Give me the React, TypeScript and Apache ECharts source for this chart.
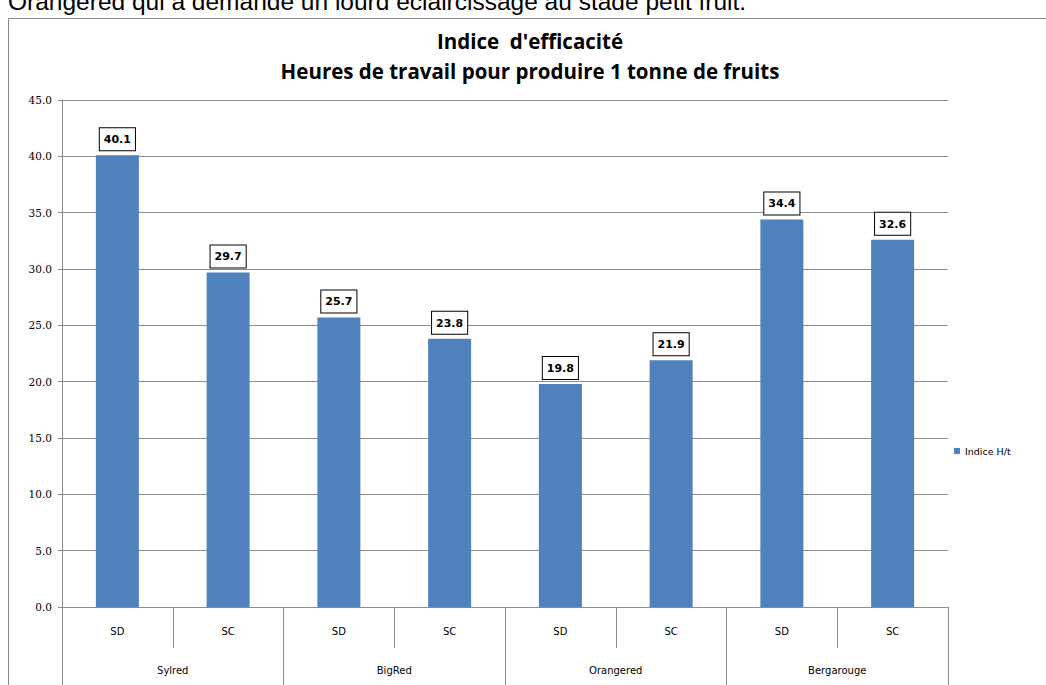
import React, { useEffect, useRef } from "react";
import * as echarts from "echarts";

const varieties = ["Sylred", "BigRed", "Orangered", "Bergarouge"];
const treatments = ["SD", "SC", "SD", "SC", "SD", "SC", "SD", "SC"];
const indexValues = [40.1, 29.7, 25.7, 23.8, 19.8, 21.9, 34.4, 32.6];
const seriesName = "Indice H/t";
const titleLine1 = "Indice  d'efficacité";
const titleLine2 = "Heures de travail pour produire 1 tonne de fruits";
const caption = "Orangered qui a demandé un lourd éclaircissage au stade petit fruit.";

export default function App() {
  const ref = useRef<HTMLDivElement>(null);
  useEffect(() => {
    if (!ref.current) return;
    const chart = echarts.init(ref.current, null, { renderer: "svg" });
    const gray = "#8c8c8c";
    chart.setOption({
      animation: false,
      backgroundColor: "#ffffff",
      grid: { left: 62, right: 98, top: 100, bottom: 78, containLabel: false },
      graphic: [
        {
          type: "rect",
          shape: { x: 8.5, y: 18.5, width: 1100, height: 700 },
          style: { fill: "none", stroke: "#8a8a8a", lineWidth: 1 },
          silent: true,
        },
        {
          type: "text",
          x: 8,
          y: 14,
          style: {
            text: caption,
            font: "24.5px 'Liberation Sans', Arial, sans-serif",
            fill: "#000",
            textVerticalAlign: "bottom",
          },
        },
        {
          type: "text",
          x: 530,
          y: 41,
          style: {
            text: titleLine1,
            font: "bold 20.5px 'Open Sans', sans-serif",
            fill: "#000",
            align: "center",
            verticalAlign: "middle",
          },
        },
        {
          type: "text",
          x: 530,
          y: 71,
          style: {
            text: titleLine2,
            font: "bold 20.5px 'Open Sans', sans-serif",
            fill: "#000",
            align: "center",
            verticalAlign: "middle",
          },
        },
      ],
      legend: {
        data: [seriesName],
        left: 949,
        top: 441,
        itemWidth: 6,
        itemHeight: 6,
        itemGap: 4,
        icon: "rect",
        textStyle: { fontFamily: "'DejaVu Sans', sans-serif", fontSize: 9.5, color: "#000" },
      },
      xAxis: [
        {
          type: "category",
          data: treatments,
          position: "bottom",
          axisLine: { show: true, lineStyle: { color: gray, width: 1 } },
          axisTick: { show: true, interval: 0, length: 41, lineStyle: { color: gray } },
          axisLabel: {
            interval: 0,
            margin: 19,
            fontFamily: "'DejaVu Sans', sans-serif",
            fontSize: 10,
            color: "#000",
          },
        },
        {
          type: "category",
          data: varieties,
          position: "bottom",
          axisLine: { show: false },
          axisTick: { show: true, interval: 0, length: 80, lineStyle: { color: gray } },
          axisLabel: {
            interval: 0,
            margin: 58,
            fontFamily: "'DejaVu Sans', sans-serif",
            fontSize: 10,
            color: "#000",
          },
        },
      ],
      yAxis: {
        type: "value",
        min: 0,
        max: 45,
        interval: 5,
        axisLine: { show: true, lineStyle: { color: gray, width: 1 } },
        axisTick: { show: true, length: 4, lineStyle: { color: gray } },
        axisLabel: {
          formatter: (v: number) => v.toFixed(1),
          margin: 10,
          fontFamily: "'DejaVu Serif', serif",
          fontSize: 10.5,
          color: "#000",
        },
        splitLine: { show: true, lineStyle: { color: gray, width: 1 } },
      },
      series: [
        {
          name: seriesName,
          type: "bar",
          xAxisIndex: 0,
          data: indexValues,
          barWidth: 43,
          itemStyle: { color: "#4F81BD" },
          label: {
            show: true,
            position: "top",
            distance: 5,
            formatter: (p: any) => Number(p.value).toFixed(1),
            fontFamily: "'DejaVu Sans', sans-serif",
            fontWeight: "bold",
            fontSize: 11,
            color: "#000",
            backgroundColor: "#fff",
            borderColor: "#000",
            borderWidth: 1,
            padding: [6, 4, 5, 4],
          },
        },
      ],
    });
    return () => chart.dispose();
  }, []);
  return (
    <div
      ref={ref}
      style={{ position: "fixed", left: 0, top: 0, width: 1046, height: 685, background: "#fff" }}
    />
  );
}
